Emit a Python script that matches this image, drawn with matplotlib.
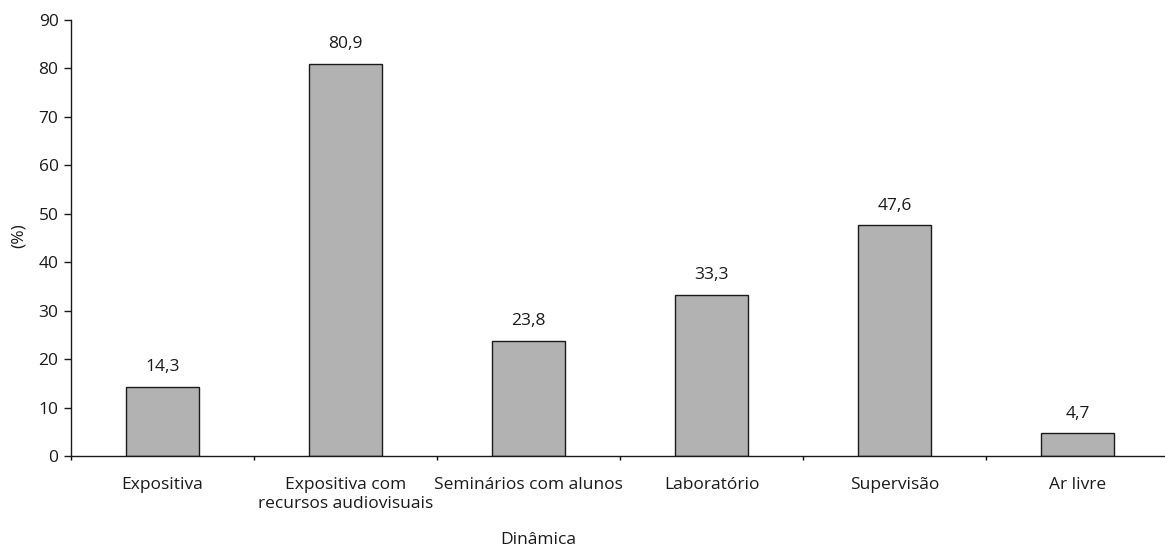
import matplotlib
matplotlib.use('Agg')
import matplotlib.pyplot as plt
import numpy as np

categorias = ['Expositiva', 'Expositiva com\nrecursos audiovisuais',
              'Seminários com alunos', 'Laboratório', 'Supervisão', 'Ar livre']
percentuais = [14.3, 80.9, 23.8, 33.3, 47.6, 4.7]
rotulos = ['14,3', '80,9', '23,8', '33,3', '47,6', '4,7']

plt.rcParams['font.family'] = ['Open Sans', 'DejaVu Sans']
plt.rcParams['text.color'] = '#1a1a1a'
fs = 12.5

fig = plt.figure(figsize=(11.65, 5.51), dpi=100)
ax = fig.add_axes([71/1165, 1 - 456/551, 1098/1165, 436/551])

x = np.arange(len(categorias))
ax.bar(x, percentuais, width=0.4, color='#b2b2b2', edgecolor='#1a1a1a', linewidth=1.0)

for xi, v, r in zip(x, percentuais, rotulos):
    ax.text(xi, v + 2.4, r, ha='center', va='bottom', fontsize=fs)

ax.set_xlim(-0.5, len(categorias) - 0.5)
ax.set_ylim(0, 90)
ax.set_yticks(range(0, 91, 10))
ax.tick_params(axis='y', labelsize=fs, length=5, width=1, direction='out',
               colors='#1a1a1a', pad=4)

# ticks between categories, labels centred under bars
ax.set_xticks(np.arange(-0.5, len(categorias)), minor=False)
ax.set_xticklabels([])
ax.set_xticks(x, minor=True)
ax.set_xticklabels(categorias, minor=True, fontsize=fs, linespacing=1.3)
ax.tick_params(axis='x', which='major', length=3, width=1, direction='out')
ax.tick_params(axis='x', which='minor', length=0, pad=15, colors='#1a1a1a')

for s in ['top', 'right']:
    ax.spines[s].set_visible(False)
for s in ['left', 'bottom']:
    ax.spines[s].set_linewidth(1.0)
    ax.spines[s].set_color('#1a1a1a')

fig.text(538/1165, 1 - 540/551, 'Dinâmica', ha='center', va='center', fontsize=fs)
fig.text(19/1165, 1 - 236/551, '(%)', ha='center', va='center', rotation=90, fontsize=fs)

plt.savefig('out.png', dpi=100)
